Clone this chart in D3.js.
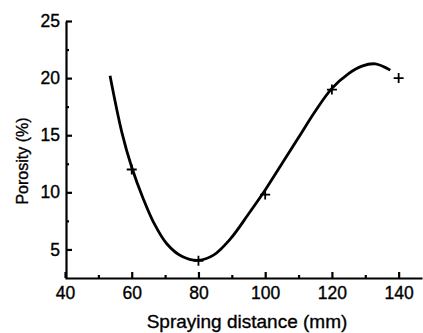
<!DOCTYPE html>
<html>
<head>
<meta charset="utf-8">
<script src="https://cdn.jsdelivr.net/npm/d3@7"></script>
<style>
  body { margin: 0; background: #fff; }
  text { font-family: "Liberation Sans", Arial, sans-serif; fill: #000; stroke: #000; stroke-width: 0.35px; }
  .axis .domain, .axis .tick line { stroke: #000; stroke-width: 2.2px; }
</style>
</head>
<body>
<div id="chart"></div>
<script>
// fitted curve
const curveDistance = [53.5, 57, 60, 63.5, 66.5, 70.5, 75, 80, 84.5, 89.5, 95, 100, 105, 110, 115, 120, 125, 129, 133, 137.5];
const curvePorosity = [20.2, 15.3, 12.2, 9.4, 7.4, 5.5, 4.4, 4.05, 4.5, 5.9, 8.1, 10.2, 12.5, 14.8, 17.1, 19.1, 20.4, 21.05, 21.25, 20.7];

// measured points (+ markers)
const pointDistance = [60, 80, 100, 120, 140];
const pointPorosity = [12, 4, 9.8, 19, 20];

const xTicks = [40, 60, 80, 100, 120, 140];
const xMinor = [50, 70, 90, 110, 130];
const yTicks = [5, 10, 15, 20, 25];
const yMinor = [7.5, 12.5, 17.5, 22.5];

const width = 423, height = 333;
const margin = { top: 21, right: 1, bottom: 55, left: 66 };

const svg = d3.select('#chart')
  .append('svg')
  .attr('width', width)
  .attr('height', height);

const x = d3.scaleLinear()
  .domain([40, 147])
  .range([margin.left - 1, width - margin.right]);

const y = d3.scaleLinear()
  .domain([2.5, 25])
  .range([height - margin.bottom, margin.top]);

// x axis, ticks point inward
const xAxis = svg.append('g')
  .attr('class', 'axis')
  .attr('transform', `translate(0, ${height - margin.bottom})`)
  .call(d3.axisBottom(x).tickValues(xTicks).tickSizeInner(-6).tickSizeOuter(0).tickPadding(9));
xAxis.selectAll('.tick text').style('font-size', '17.5px');

svg.append('g')
  .attr('class', 'axis')
  .attr('transform', `translate(0, ${height - margin.bottom})`)
  .call(d3.axisBottom(x).tickValues(xMinor).tickSize(-3).tickFormat(''))
  .call(g => g.select('.domain').remove());

// y axis
const yAxis = svg.append('g')
  .attr('class', 'axis')
  .attr('transform', `translate(${margin.left}, 0)`)
  .call(d3.axisLeft(y).tickValues(yTicks).tickSizeInner(-6).tickSizeOuter(0).tickPadding(6));
yAxis.selectAll('.tick text').style('font-size', '17.5px');

svg.append('g')
  .attr('class', 'axis')
  .attr('transform', `translate(${margin.left}, 0)`)
  .call(d3.axisLeft(y).tickValues(yMinor).tickSize(-3).tickFormat(''))
  .call(g => g.select('.domain').remove());

// axis titles
svg.append('text')
  .attr('x', 247)
  .attr('y', 328)
  .attr('text-anchor', 'middle')
  .style('font-size', '19px')
  .text('Spraying distance (mm)');

svg.append('text')
  .attr('transform', `translate(28, 161) rotate(-90)`)
  .attr('text-anchor', 'middle')
  .style('font-size', '16px')
  .text('Porosity (%)');

// curve
const curveData = curveDistance.map((d, i) => ({ x: d, y: curvePorosity[i] }));
const line = d3.line()
  .x(d => x(d.x))
  .y(d => y(d.y))
  .curve(d3.curveCatmullRom);

svg.append('path')
  .datum(curveData)
  .attr('d', line)
  .attr('fill', 'none')
  .attr('stroke', '#000')
  .attr('stroke-width', 2.8);

// + markers
const pts = pointDistance.map((d, i) => ({ x: d, y: pointPorosity[i] }));
svg.selectAll('.pt')
  .data(pts)
  .enter()
  .append('path')
  .attr('class', 'pt')
  .attr('transform', d => `translate(${x(d.x)}, ${y(d.y)})`)
  .attr('d', 'M-5,0H5M0,-5V5')
  .attr('stroke', '#000')
  .attr('stroke-width', 1.8)
  .attr('fill', 'none');
</script>
</body>
</html>
